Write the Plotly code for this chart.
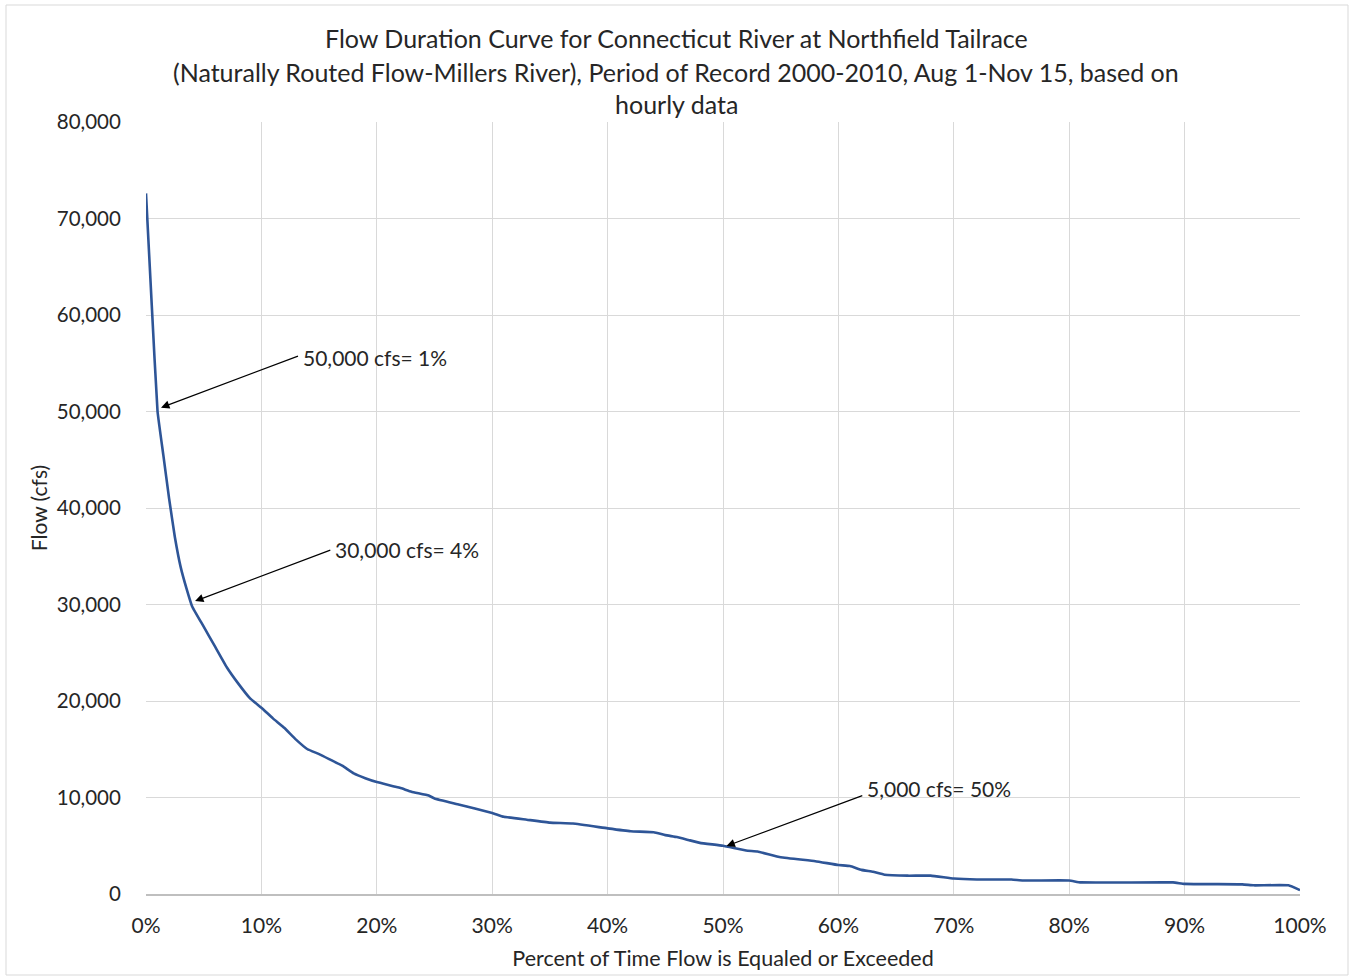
import plotly.graph_objects as go

pct = [0, 0.5, 1.0, 1.5, 2.0, 2.5, 3.0, 3.5, 4.0, 5.0, 6.0, 7.0, 8.0, 9.0, 10.0,
       11.0, 12.0, 13.0, 14.0, 15.0, 16.0, 17.0, 18.0, 19.0, 20.0, 22.0, 23.0,
       24.5, 25.0, 27.0, 30.0, 31.0, 33.0, 35.0, 37.0, 40.0, 42.0, 44.0, 45.0,
       46.0, 47.0, 48.0, 50.0, 52.0, 53.0, 55.0, 58.0, 60.0, 61.0, 62.0, 63.0,
       64.0, 66.0, 68.0, 70.0, 72.0, 75.0, 76.0, 80.0, 81.0, 89.0, 90.0, 95.0,
       96.0, 99.0, 100.0]
flow = [72600, 61000, 50000, 45500, 41000, 37000, 33900, 31700, 29800, 27700,
        25600, 23500, 21800, 20300, 19300, 18200, 17200, 16000, 15000, 14500,
        13900, 13300, 12500, 12000, 11600, 11000, 10600, 10200, 9900, 9300,
        8400, 8000, 7700, 7400, 7300, 6800, 6500, 6400, 6100, 5900, 5600, 5300,
        5000, 4500, 4400, 3800, 3400, 3000, 2900, 2500, 2300, 2000, 1900, 1900,
        1600, 1500, 1500, 1400, 1400, 1200, 1200, 1050, 1000, 900, 900, 400]

x_ticks = [0, 10, 20, 30, 40, 50, 60, 70, 80, 90, 100]
x_tick_labels = ["0%", "10%", "20%", "30%", "40%", "50%", "60%", "70%", "80%", "90%", "100%"]
y_ticks = [0, 10000, 20000, 30000, 40000, 50000, 60000, 70000, 80000]
y_tick_labels = ["0", "10,000", "20,000", "30,000", "40,000", "50,000", "60,000", "70,000", "80,000"]

# annotations: arrow head / arrow tail / label position
ann_text = ["50,000 cfs= 1%", "30,000 cfs= 4%", "5,000 cfs= 50%"]
ann_head_x = [1.3, 4.25, 50.3]
ann_head_y = [50400, 30350, 4970]
ann_tail_x = [13.3, 16.1, 62.2]
ann_tail_y = [55800, 35700, 10250]
ann_label_y = [55600, 35700, 10950]

title_lines = [
    "Flow Duration Curve for Connecticut River at Northfield Tailrace",
    "(Naturally Routed Flow-Millers River), Period of Record 2000-2010, Aug 1-Nov 15, based on",
    "hourly data",
]

FONT = "Lato, Calibri, sans-serif"
TXT = "#262626"

fig = go.Figure()
fig.add_trace(go.Scatter(x=pct, y=flow, mode="lines",
                         line=dict(color="#2E5597", width=2.6, shape="spline", smoothing=0.3),
                         showlegend=False, hoverinfo="skip"))

annotations = []
for hx, hy, tx, ty, ly, t in zip(ann_head_x, ann_head_y, ann_tail_x, ann_tail_y, ann_label_y, ann_text):
    annotations.append(dict(x=hx, y=hy, ax=tx, ay=ty, xref="x", yref="y", axref="x", ayref="y",
                            text="", showarrow=True, arrowhead=2, arrowsize=1.4, arrowwidth=1.2,
                            arrowcolor="#000000"))
    annotations.append(dict(x=tx + 0.1, y=ly, xref="x", yref="y", text=t, showarrow=False,
                            xanchor="left", yanchor="middle",
                            font=dict(family=FONT, size=21, color=TXT)))

title_y = [38, 72, 104]
for line, py in zip(title_lines, title_y):
    annotations.append(dict(x=(676 - 146) / 1154, y=(894 - py) / 772, xref="paper", yref="paper",
                            text=line, showarrow=False, xanchor="center", yanchor="middle",
                            font=dict(family=FONT, size=25, color=TXT)))

fig.update_layout(
    width=1351, height=977,
    margin=dict(l=146, r=51, t=122, b=83),
    paper_bgcolor="white", plot_bgcolor="white",
    font=dict(family=FONT, color=TXT),
    annotations=annotations,
    showlegend=False,
)

fig.update_xaxes(range=[0, 100], tickvals=x_ticks, ticktext=x_tick_labels,
                 showgrid=True, gridcolor="#d9d9d9", gridwidth=1,
                 showline=True, linecolor="#bfbfbf", linewidth=2,
                 ticks="outside", ticklen=12, tickcolor="rgba(0,0,0,0)",
                 tickfont=dict(family=FONT, size=21, color=TXT), zeroline=False,
                 automargin=False,
                 title=dict(text="Percent of Time Flow is Equaled or Exceeded",
                            font=dict(family=FONT, size=21.5, color=TXT), standoff=15))
fig.update_yaxes(range=[0, 80000], tickvals=y_ticks, ticktext=y_tick_labels,
                 showgrid=True, gridcolor="#d9d9d9", gridwidth=1,
                 showline=False, zeroline=False,
                 ticks="outside", ticklen=20, tickcolor="rgba(0,0,0,0)",
                 tickfont=dict(family=FONT, size=20.5, color=TXT),
                 automargin=False,
                 title=dict(text="Flow (cfs)", font=dict(family=FONT, size=21, color=TXT), standoff=3))

# outer chart border
fig.add_shape(type="rect", xref="paper", yref="paper",
              x0=(6 - 146) / 1154, x1=(1348 - 146) / 1154,
              y0=(894 - 975) / 772, y1=(894 - 5) / 772,
              line=dict(color="#d9d9d9", width=1), layer="below")

fig.write_html("out.html")
